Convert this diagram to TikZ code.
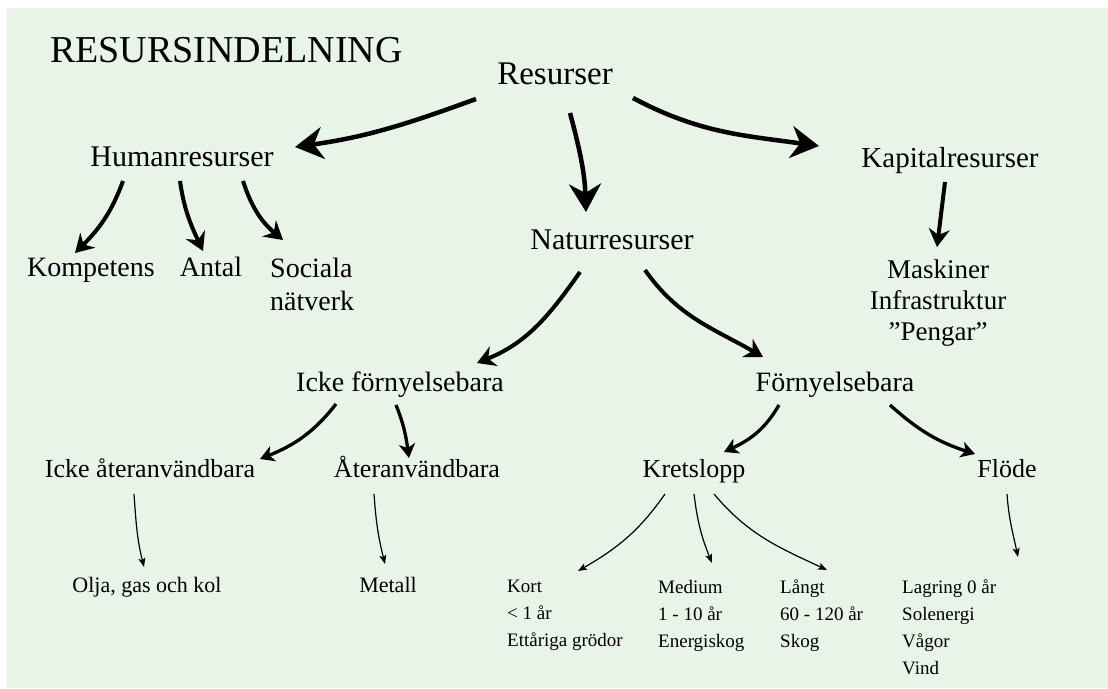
\documentclass[tikz,border=0pt]{standalone}
\usepackage{fontspec}
\setmainfont{Liberation Serif}
\usepackage{tikz}
\usetikzlibrary{arrows.meta}
\definecolor{bggreen}{RGB}{233,244,233}

\begin{document}
\begin{tikzpicture}[x=1pt, y=1pt]
	\tikzset{
		every node/.style = {inner sep=0pt},
		titletext/.style = {font=\fontsize{38}{44}\selectfont},
		roottext/.style = {font=\fontsize{33}{38}\selectfont},
		lvlone/.style = {font=\fontsize{30}{34}\selectfont},
		lvltwo/.style = {font=\fontsize{28}{33}\selectfont},
		lvlthree/.style = {font=\fontsize{26}{30}\selectfont},
		leaftext/.style = {font=\fontsize{22}{26}\selectfont},
		smalltext/.style = {font=\fontsize{19}{27}\selectfont, align=left, anchor=north west},
		toparrow/.style = {line width=4.5pt, -{Stealth[length=28pt, width=32pt, inset=9pt]}},
		midarrow/.style = {line width=4pt, -{Stealth[length=18pt, width=21pt, inset=6pt]}},
		lowarrow/.style = {line width=3.3pt, -{Stealth[length=14pt, width=16pt, inset=4pt]}},
		thinarrow/.style = {line width=1.2pt, -{Stealth[length=9pt, width=7pt, inset=2pt]}},
	}
	% background
	\useasboundingbox (0,0) rectangle (1108,688);
	\fill[bggreen] (7,0) rectangle (1108,680);

	\node[titletext, anchor=base west] (title) at (50,625) {RESURSINDELNING};
	\node[roottext, anchor=base] (res) at (555,603) {Resurser};
	% first level
	\node[lvlone, anchor=base] (hum) at (182,521) {Humanresurser};
	\node[lvlone, anchor=base, font=\fontsize{29}{34}\selectfont] (kap) at (950,520) {Kapitalresurser};
	\node[lvlone, anchor=base] (nat) at (612,438) {Naturresurser};
	% humanresurser
	\node[lvltwo, anchor=base] (komp) at (91,411) {Kompetens};
	\node[lvltwo, anchor=base] (antal) at (211,411) {Antal};
	\node[lvltwo, anchor=north west, align=left] (soc) at (270,430) {Sociala\\nätverk};
	% kapitalresurser
	\node[lvltwo, anchor=north, align=center, font=\fontsize{27}{31}\selectfont] (mask) at (938,428) {Maskiner\\Infrastruktur\\”Pengar”};
	% naturresurser
	\node[lvltwo, anchor=base] (ickef) at (400,296) {Icke förnyelsebara};
	\node[lvltwo, anchor=base] (forn) at (835,296) {Förnyelsebara};
	\node[lvlthree, anchor=base] (ickeat) at (150,210) {Icke återanvändbara};
	\node[lvlthree, anchor=base] (ater) at (417,210) {Återanvändbara};
	\node[lvlthree, anchor=base] (kret) at (694,210) {Kretslopp};
	\node[lvlthree, anchor=base] (flode) at (1007,210) {Flöde};
	% leaves
	\node[leaftext, anchor=base] (olja) at (147,95) {Olja, gas och kol};
	\node[leaftext, anchor=base] (metall) at (388,95) {Metall};
	\node[smalltext] (kort) at (507,108) {Kort\\< 1 år\\Ettåriga grödor};
	\node[smalltext] (medium) at (658,108) {Medium\\1 - 10 år\\Energiskog};
	\node[smalltext] (langt) at (780,108) {Långt\\60 - 120 år\\Skog};
	\node[smalltext] (lagring) at (902,108) {Lagring 0 år\\Solenergi\\Vågor\\Vind};

	% arrows from the root
	\draw[toparrow] ([shift={(-79,-14)}]res.base) to[out=200, in=8] ([shift={(113,20)}]hum.base);
	\draw[toparrow] ([shift={(15,-28)}]res.base) to[out=-75, in=92] ([shift={(-26,38)}]nat.base);
	\draw[toparrow] ([shift={(78,-13)}]res.base) to[out=-28, in=172] ([shift={(-131,22)}]kap.base);
	% first level arrows
	\draw[midarrow] ([shift={(-59,-14)}]hum.base) to[out=250, in=45] ([shift={(-16,24)}]komp.base);
	\draw[midarrow] ([shift={(-2,-14)}]hum.base) to[out=-82, in=115] ([shift={(-8,26)}]antal.base);
	\draw[midarrow] ([shift={(61,-14)}]hum.base) to[out=-72, in=140] ([shift={(13,18)}]soc.north west);
	\draw[midarrow] ([shift={(-5,-14)}]kap.base) -- ([shift={(-1,13)}]mask.north);
	\draw[midarrow] ([shift={(-32,-22)}]nat.base) to[out=235, in=22] ([shift={(77,29)}]ickef.base);
	\draw[midarrow] ([shift={(33,-20)}]nat.base) to[out=-55, in=150] ([shift={(-72,35)}]forn.base);
	% second level arrows
	\draw[lowarrow] ([shift={(-64,-12)}]ickef.base) to[out=232, in=22] ([shift={(110,19)}]ickeat.base);
	\draw[lowarrow] ([shift={(-4,-13)}]ickef.base) to[out=-68, in=98] ([shift={(-8,20)}]ater.base);
	\draw[lowarrow] ([shift={(-56,-13)}]forn.base) to[out=240, in=25] ([shift={(30,26)}]kret.base);
	\draw[lowarrow] ([shift={(55,-13)}]forn.base) to[out=-42, in=162] ([shift={(-32,24)}]flode.base);
	% thin arrows to the leaves
	\draw[thinarrow] ([shift={(-16,-16)}]ickeat.base) to[out=-86, in=104] ([shift={(-3,26)}]olja.base);
	\draw[thinarrow] ([shift={(-43,-16)}]ater.base) to[out=-86, in=104] ([shift={(-3,29)}]metall.base);
	\draw[thinarrow] ([shift={(-29,-16)}]kret.base) to[out=235, in=30] ([shift={(71,9)}]kort.north west);
	\draw[thinarrow] ([shift={(0,-16)}]kret.base) to[out=-83, in=112] ([shift={(54,17)}]medium.north west);
	\draw[thinarrow] ([shift={(20,-16)}]kret.base) to[out=-50, in=155] ([shift={(47,10)}]langt.north west);
	\draw[thinarrow] ([shift={(0,-16)}]flode.base) to[out=-86, in=102] ([shift={(116,23)}]lagring.north west);
\end{tikzpicture}
\end{document}
